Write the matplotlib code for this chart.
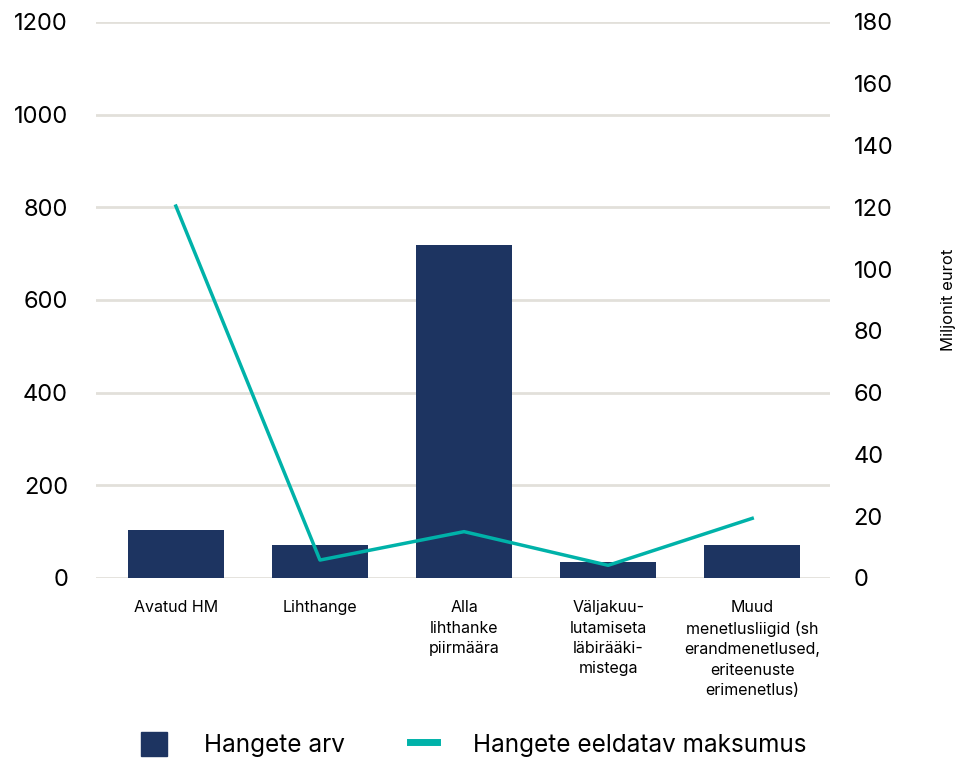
import matplotlib.pyplot as plt
from matplotlib.patches import Patch
from matplotlib.lines import Line2D

plt.rcParams['font.family'] = ['Inter', 'DejaVu Sans']

categories = ['Avatud HM', 'Lihthange', 'Alla\nlihthanke\npiirmäära',
              'Väljakuu-\nlutamiseta\nläbirääki-\nmistega',
              'Muud\nmenetlusliigid (sh\nerandmenetlused,\neriteenuste\nerimenetlus)']
hangete_arv = [104, 71, 719, 35, 71]
maksumus = [120.4, 5.8, 15.0, 4.1, 19.3]

bar_color = '#1d3461'
line_color = '#00b2a9'
grid_color = '#e2e0da'

fig = plt.figure(figsize=(9.59, 7.58), dpi=100)
ax = fig.add_axes([0.100, 0.2375, 0.7655, 0.7335])
x = list(range(len(categories)))
ax.bar(x, hangete_arv, width=0.667, color=bar_color, zorder=2)
ax.set_ylim(0, 1200)
ax.set_yticks(range(0, 1201, 200))
ax.set_xlim(-0.555, 4.54)
ax.set_xticks(x)
ax.set_xticklabels(categories, fontsize=11.5, linespacing=1.45, va='top')
ax.grid(axis='y', color=grid_color, linewidth=2, zorder=0)
for s in ax.spines.values():
    s.set_visible(False)
ax.tick_params(axis='y', length=0, labelsize=17, pad=20)
ax.tick_params(axis='x', length=0, pad=16)

ax2 = ax.twinx()
ax2.plot(x, maksumus, color=line_color, linewidth=2.5, zorder=3)
ax2.set_ylim(0, 180)
ax2.set_yticks(range(0, 181, 20))
for s in ax2.spines.values():
    s.set_visible(False)
ax2.tick_params(axis='y', length=0, labelsize=17, pad=17)
ax2.set_ylabel('Miljonit eurot', fontsize=12, labelpad=34)

handles = [Patch(color=bar_color), Line2D([], [], color=line_color, linewidth=5)]
fig.legend(handles, ['Hangete arv', 'Hangete eeldatav maksumus'], loc='lower center',
           bbox_to_anchor=(0.494, -0.028), ncol=2, frameon=False, fontsize=17.5,
           handlelength=1.1, handleheight=1.1, columnspacing=2.7, handletextpad=1.5)

fig.savefig('out.png', dpi=100)
